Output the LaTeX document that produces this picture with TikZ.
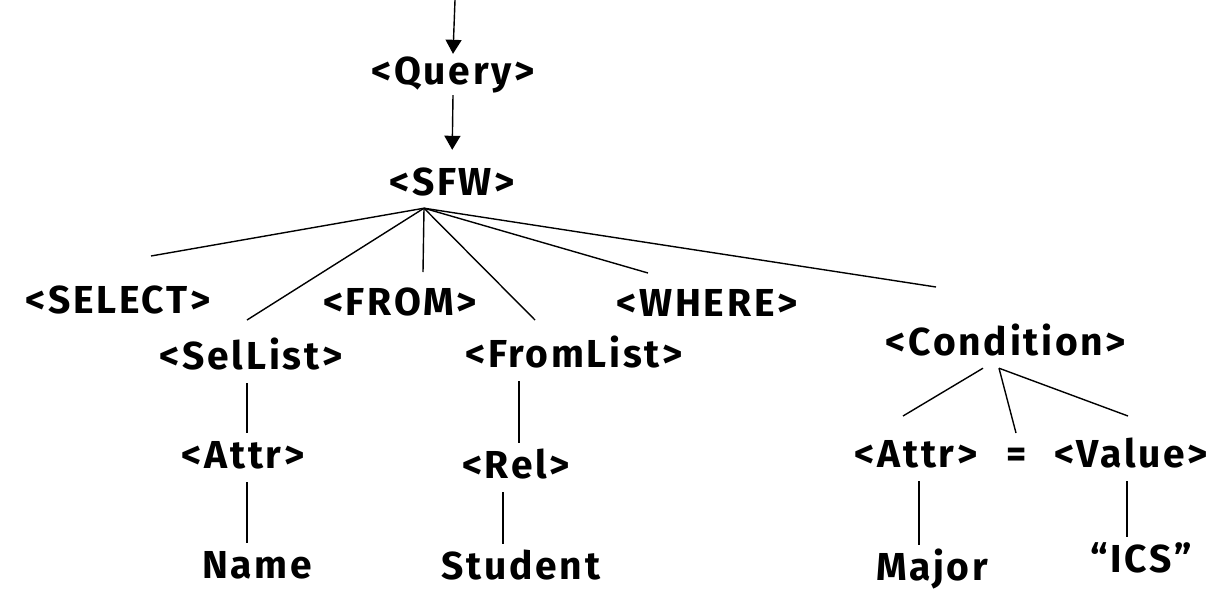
\documentclass[tikz,border=0pt]{standalone}
\usepackage{fontspec}
\setmainfont{Fira Sans}
\newfontfamily\treefont[LetterSpace=7]{Fira Sans}
\usetikzlibrary{arrows.meta}

\tikzset{
  sym/.style={font=\treefont\bfseries\fontsize{39}{41}\selectfont, anchor=base,
    inner sep=2pt, text height=28pt, text depth=9pt},
  branch/.style={line width=1.4pt},
  stem/.style={line width=1.4pt, shorten <=3pt, shorten >=5pt},
  down/.style={line width=1.4pt, -{Triangle[length=14pt,width=16pt]}}
}

\begin{document}
\begin{tikzpicture}[x=1pt, y=-1pt]
      \useasboundingbox (0,0) rectangle (1215,590);
      \node[sym] (Query) at (453, 84) {<Query>};
      \node[sym] (SFW) at (452, 195) {<SFW>};
      \node[sym] (SEL) at (118, 313) {<SELECT>};
      \node[sym] (SelList) at (251, 369) {<SelList>};
      \node[sym] (FROM) at (400, 315) {<FROM>};
      \node[sym] (FromList) at (574, 367) {<FromList>};
      \node[sym] (WHERE) at (707, 316) {<WHERE>};
      \node[sym] (Cond) at (1006, 355) {<Condition>};
      \node[sym] (AttrL) at (243, 468) {<Attr>};
      \node[sym] (Rel) at (516, 478) {<Rel>};
      \node[sym] (Name) at (257, 578) {Name};
      \node[sym] (Student) at (521, 579) {Student};
      \node[sym] (AttrR) at (916, 467) {<Attr>};
      \node[sym] (Eq) at (1017, 467) {=};
      \node[sym] (Value) at (1131, 467) {<Value>};
      \node[sym] (Major) at (932, 580) {Major};
      \node[sym] (ICS) at (1141, 572) {“ICS”};

      % arrows into the root
      \coordinate (start) at (455, 0);
      \draw[down] (start) to (Query.north);
      \draw[down, shorten >=15pt] (Query.south) to (SFW.north);

      % fan out of <SFW>
      \coordinate (top) at ([xshift=-28pt, yshift=-2pt]SFW.south);
      \coordinate (selTip) at (151, 256);
      \coordinate (selListTip) at (247, 320);
      \coordinate (fromTip) at (423, 272);
      \coordinate (fromListTip) at (535, 320);
      \coordinate (whereTip) at (648, 273);
      \coordinate (condTip) at (936, 287);
      \foreach \t in {selTip, selListTip, fromTip, fromListTip, whereTip, condTip}
        \draw[branch] (top) to (\t);

      % fan out of <Condition>
      \coordinate (condFootL) at ([xshift=-23pt, yshift=-2pt]Cond.south);
      \coordinate (condFootR) at ([xshift=-7pt, yshift=-2pt]Cond.south);
      \coordinate (attrTip) at (903, 416);
      \coordinate (eqTip) at (1016, 433);
      \coordinate (valueTip) at (1128, 416);
      \draw[branch] (condFootL) to (attrTip);
      \draw[branch] (condFootR) to (eqTip);
      \draw[branch] (condFootR) to (valueTip);

      % single children
      \draw[stem] ([xshift=-4pt]SelList.south) to ([xshift=4pt]AttrL.north);
      \draw[stem] ([xshift=4pt]AttrL.south) to ([xshift=-10pt]Name.north);
      \draw[stem] ([xshift=-55pt]FromList.south) to ([xshift=3pt]Rel.north);
      \draw[stem] ([xshift=-13pt]Rel.south) to ([xshift=-18pt]Student.north);
      \draw[stem] ([xshift=3pt]AttrR.south) to ([xshift=-13pt]Major.north);
      \draw[stem] ([xshift=-4pt]Value.south) to ([xshift=-14pt]ICS.north);
\end{tikzpicture}
\end{document}
